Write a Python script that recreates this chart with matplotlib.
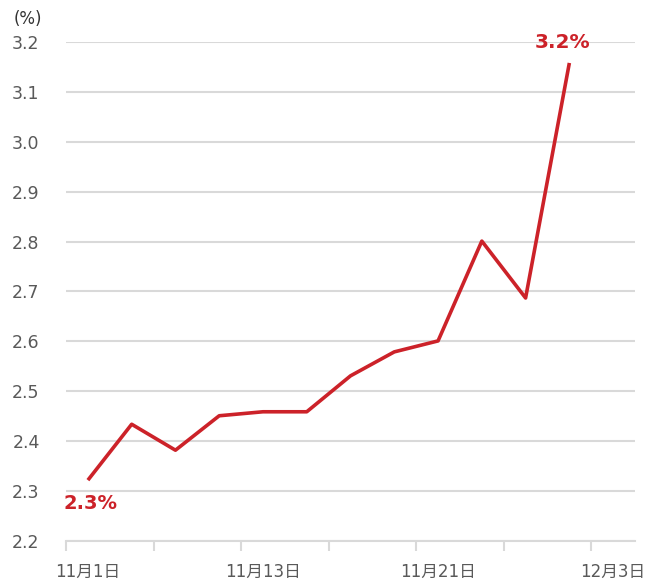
import matplotlib.pyplot as plt

plt.rcParams['font.family'] = ['DejaVu Sans', 'Noto Sans CJK JP']

# データ(13区分、最後の区分は空)
categories = ['11月1日', '', '', '', '11月13日', '', '', '', '11月21日', '', '', '', '12月3日']
rates = [2.322, 2.434, 2.382, 2.451, 2.459, 2.459, 2.531, 2.579, 2.601, 2.801, 2.687, 3.158]
y_ticks = [2.2, 2.3, 2.4, 2.5, 2.6, 2.7, 2.8, 2.9, 3.0, 3.1, 3.2]

red = '#cc2229'
gray_text = '#595959'
grid_gray = '#d9d9d9'

fig = plt.figure(figsize=(6.59, 5.83), dpi=100)
ax = fig.add_axes([0.1002, 0.072, 0.8634, 0.856])

x = [i + 0.5 for i in range(len(rates))]
ax.plot(x, rates, color=red, linewidth=2.6, solid_capstyle='butt', zorder=3)

ax.set_xlim(0, len(categories))
ax.set_ylim(2.2, 3.2)
ax.set_yticks(y_ticks)
ax.set_yticklabels([f'{v:.1f}' for v in y_ticks], color=gray_text, fontsize=12.5)
ax.yaxis.grid(True, color=grid_gray, linewidth=1.5)
ax.set_axisbelow(True)

# 目盛り線は2区分ごと、ラベルは4区分ごと
ax.set_xticks(range(0, len(categories) + 1, 2))
ax.set_xticklabels([])
ax.set_xticks([i + 0.5 for i in range(0, len(categories), 4)], minor=True)
labels = ax.set_xticklabels([categories[i] for i in range(0, len(categories), 4)], minor=True,
                            color=gray_text, fontsize=12)
labels[-1].set_x(12.38)
ax.tick_params(axis='x', which='major', length=7, color=grid_gray, width=1.5)
ax.tick_params(axis='x', which='minor', length=0, pad=16)
ax.tick_params(axis='y', length=0, pad=19)

for s in ['top', 'right', 'left']:
    ax.spines[s].set_visible(False)
ax.spines['bottom'].set_color(grid_gray)
ax.spines['bottom'].set_linewidth(1.5)

# 始点と終点のラベル
ax.annotate('2.3%', (x[0], rates[0]), xytext=(2, -16.5), textcoords='offset points',
            ha='center', va='center', color=red, fontsize=14, fontweight='bold')
ax.annotate('3.2%', (x[-1], rates[-1]), xytext=(-5, 15), textcoords='offset points',
            ha='center', va='center', color=red, fontsize=14.5, fontweight='bold')

fig.text(0.021, 0.968, '(%)', color='#333333', fontsize=12, ha='left', va='center')

fig.savefig('out.png', dpi=100)
